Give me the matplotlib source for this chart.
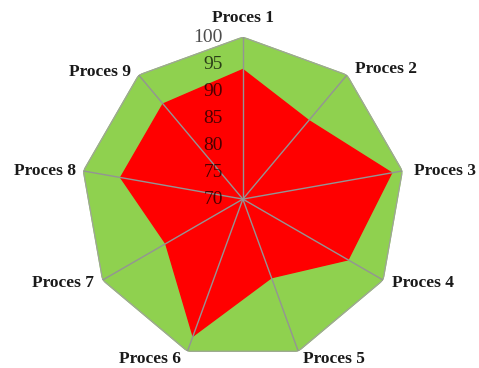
import numpy as np
import matplotlib
matplotlib.use("Agg")
import matplotlib.pyplot as plt

# ---- data -------------------------------------------------------------------
labels = ["Proces 1", "Proces 2", "Proces 3", "Proces 4", "Proces 5",
          "Proces 6", "Proces 7", "Proces 8", "Proces 9"]
target = [100, 100, 100, 100, 100, 100, 100, 100, 100]
actual = [94, 89, 98, 92.5, 85.5, 97, 86.5, 93, 93]
ticks = [70, 75, 80, 85, 90, 95, 100]

GREEN = "#8fd14f"
RED = "#ff0000"
SPOKE = "#949494"

n = len(labels)
theta = np.linspace(0, 2 * np.pi, n, endpoint=False)
th_closed = np.append(theta, theta[0])

fig = plt.figure(figsize=(4.79, 3.68), dpi=100)
ax = fig.add_axes([0.169, 0.019, 0.676, 0.880], projection="polar")
ax.set_theta_offset(np.pi / 2)
ax.set_theta_direction(-1)
ax.set_ylim(70, 100)
ax.grid(False)
ax.spines["polar"].set_visible(False)
ax.set_xticks([])
ax.set_yticks([])
ax.patch.set_alpha(0)

ax.fill(th_closed, np.append(target, target[0]), color=GREEN, zorder=1)
ax.plot(th_closed, np.append(target, target[0]), color="#a0a0a0", lw=0.8, zorder=2)
ax.fill(th_closed, np.append(actual, actual[0]), color=RED, zorder=3)
for t in theta:
    ax.plot([t, t], [70, 100], color=SPOKE, lw=1.0, zorder=4)

# category labels
offsets = [(0, 19, "center"), (8, 6, "left"), (12, 0, "left"),
           (9, -3, "left"), (5, -8, "left"), (-6, -8, "right"),
           (-9, -3, "right"), (-7, 0, "right"), (-8, 3, "right")]
for t, lab, (dx, dy, ha) in zip(theta, labels, offsets):
    ax.annotate(lab, xy=(t, 100), xytext=(dx, dy), textcoords="offset pixels",
                ha=ha, va="center", fontsize=12.5, fontweight="bold",
                family="Liberation Serif", color="#1a1a1a", zorder=6,
                annotation_clip=False)

# radial tick labels
for v in ticks:
    ax.annotate(str(v), xy=(0, v), xytext=(-20, 0), textcoords="offset pixels",
                ha="right", va="center", fontsize=14,
                family="Liberation Serif", color="black", alpha=0.7,
                zorder=5, annotation_clip=False)

fig.savefig("out.png", dpi=100)
